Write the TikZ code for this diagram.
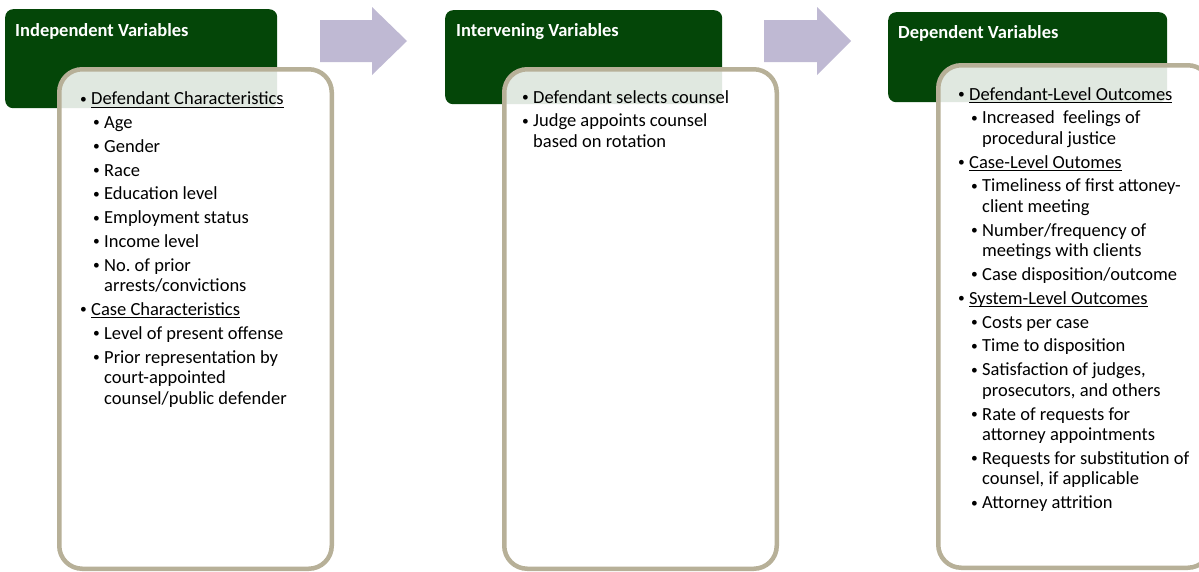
\documentclass[tikz,border=0pt]{standalone}
\usepackage{fontspec}
\setmainfont{Carlito}
\definecolor{hdr}{RGB}{4,70,8}
\definecolor{framec}{RGB}{183,176,152}
\definecolor{arrc}{RGB}{191,185,211}
\newcommand\ulc[1]{\setbox0\hbox{#1}\rlap{\rule[-2.8pt]{\wd0}{0.9pt}}\box0}
\newcommand\bodyset{\rightskip=0pt plus 1fil\relax\spaceskip=0pt\relax\xspaceskip=0pt\relax\frenchspacing\parskip=3.3pt\relax\parindent=0pt\relax}
\newcommand\smallbul{\makebox[11pt][l]{\raisebox{1.6pt}{\fontsize{13.5}{13.5}\selectfont\textbullet}}}
\newcommand\Fone[1]{\hangindent=11pt\hangafter=1\noindent\strut\smallbul#1}
\newcommand\Lone[1]{\par\Fone{#1}}
\newcommand\Ltwo[1]{\par\hangindent=24pt\hangafter=1\noindent\strut\hspace*{13pt}\smallbul#1}
\tikzset{
  hdrbox/.style={fill=hdr, rounded corners=8pt, anchor=north west, inner sep=0pt},
  bodybox/.style={draw=framec, line width=4.5pt, fill=white, fill opacity=0.88, rounded corners=23pt, anchor=north west, inner sep=0pt, minimum width=272.5pt},
  title/.style={anchor=base west, inner sep=0pt, text=white, font=\fontsize{18.5}{20}\selectfont\bfseries},
  body/.style={anchor=north west, inner sep=0pt, text width=240pt, font=\fontsize{18.5}{20.5}\selectfont},
  blockarrow/.style={fill=arrc}
}
\begin{document}
\begin{tikzpicture}[x=1pt,y=-1pt]
\clip (0,0) rectangle (1199,571);
% column 1
\node[hdrbox, minimum width=272pt, minimum height=99pt] (g1) at (5,9) {};
\node[bodybox, minimum height=499.5pt] (w1) at (57,67) {};
\node[title] (t1) at (15,36.5) {Independent Variables};
% column 2
\node[hdrbox, minimum width=277pt, minimum height=94pt] (g2) at (445,10) {};
\node[bodybox, minimum height=499.5pt] (w2) at (502,67) {};
\node[title] (t2) at (456,36.5) {Intervening Variables};
% column 3
\node[hdrbox, minimum width=279pt, minimum height=90pt] (g3) at (888,12) {};
\node[bodybox, minimum height=502.5pt] (w3) at (936,63) {};
\node[title] (t3) at (898,38.5) {Dependent Variables};
% arrows
\fill[blockarrow] (320,20) -- (372,20) -- (372,7) -- (407,41) -- (372,75) -- (372,62) -- (320,62) -- cycle;
\fill[blockarrow] (764,20) -- (817,20) -- (817,7) -- (851,41) -- (817,75) -- (817,62) -- (764,62) -- cycle;
% texts
\node[body] (b1) at (80,90.1) {\bodyset
\Fone{\ulc{Defendant Characteristics}}
\Ltwo{Age}
\Ltwo{Gender}
\Ltwo{Race}
\Ltwo{Education level}
\Ltwo{Employment status}
\Ltwo{Income level}
\Ltwo{No. of prior\newline arrests/convictions}
\Lone{\ulc{Case Characteristics}}
\Ltwo{Level of present offense}
\Ltwo{Prior representation by\newline court-appointed\newline counsel/public defender}\par};
\node[body] (b2) at (522,88.6) {\bodyset
\Fone{Defendant selects counsel}
\Lone{Judge appoints counsel\newline based on rotation}\par};
\node[body] (b3) at (958,85.5) {\bodyset
\Fone{\ulc{Defendant-Level Outcomes}}
\Ltwo{Increased\ \ feelings of\newline procedural justice}
\Lone{\ulc{Case-Level Outomes}}
\Ltwo{Timeliness of first attoney-\newline client meeting}
\Ltwo{Number/frequency of\newline meetings with clients}
\Ltwo{Case disposition/outcome}
\Lone{\ulc{System-Level Outcomes}}
\Ltwo{Costs per case}
\Ltwo{Time to disposition}
\Ltwo{Satisfaction of judges,\newline prosecutors, and others}
\Ltwo{Rate of requests for\newline attorney appointments}
\Ltwo{Requests for substitution of\newline counsel, if applicable}
\Ltwo{Attorney attrition}\par};
\end{tikzpicture}
\end{document}
